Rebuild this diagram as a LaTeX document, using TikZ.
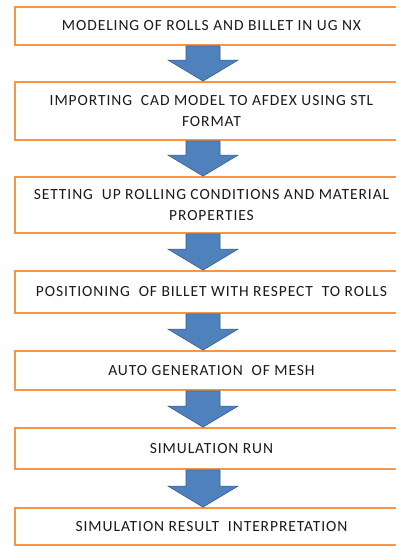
\documentclass[tikz,border=0pt]{standalone}
\usepackage{fontspec}
\setmainfont{Carlito}[LetterSpace=6]
\usetikzlibrary{calc}
\definecolor{boxorange}{HTML}{F79646}
\definecolor{arrowblue}{HTML}{4F81BD}
\definecolor{arrowedge}{HTML}{385D8A}
\definecolor{txt}{HTML}{1A1A1A}
\tikzset{
  stepbox/.style={draw=boxorange, line width=1.8pt, fill=white, minimum width=393pt,
    align=center, text=txt, font=\fontsize{15.5}{21}\selectfont, inner sep=0pt},
  blockarr/.style={fill=arrowblue, draw=arrowedge, line width=0.6pt, line join=miter}
}
\newcommand\flowarrow[2]{%
  \path[blockarr] let \p1=(#1.south), \p2=(#2.north) in
    (186,\y1) -- (220,\y1) -- (220,\y2+21) -- (238,\y2+21) -- (203,\y2) --
    (168,\y2+21) -- (186,\y2+21) -- cycle;}
\begin{document}
\begin{tikzpicture}[x=1pt,y=-1pt]
\useasboundingbox (0,0) rectangle (396,546);
\node[stepbox, minimum height=38pt] (b1) at (211.5,26) {MODELING OF ROLLS AND BILLET IN UG NX};
\node[stepbox, minimum height=58pt] (b2) at (211.5,111) {IMPORTING\ \ CAD MODEL TO AFDEX USING STL\\FORMAT};
\node[stepbox, minimum height=56pt] (b3) at (211.5,205) {SETTING\ \ UP ROLLING CONDITIONS AND MATERIAL\\PROPERTIES};
\node[stepbox, minimum height=42pt] (b4) at (211.5,292) {POSITIONING\ \ OF BILLET WITH RESPECT\ \ TO ROLLS};
\node[stepbox, minimum height=39pt] (b5) at (211.5,370.5) {AUTO GENERATION\ \ OF MESH};
\node[stepbox, minimum height=41pt] (b6) at (211.5,448.5) {SIMULATION RUN};
\node[stepbox, minimum height=37pt] (b7) at (211.5,526.5) {SIMULATION RESULT\ \ INTERPRETATION};
\flowarrow{b1}{b2}
\flowarrow{b2}{b3}
\flowarrow{b3}{b4}
\flowarrow{b4}{b5}
\flowarrow{b5}{b6}
\flowarrow{b6}{b7}
\end{tikzpicture}
\end{document}
